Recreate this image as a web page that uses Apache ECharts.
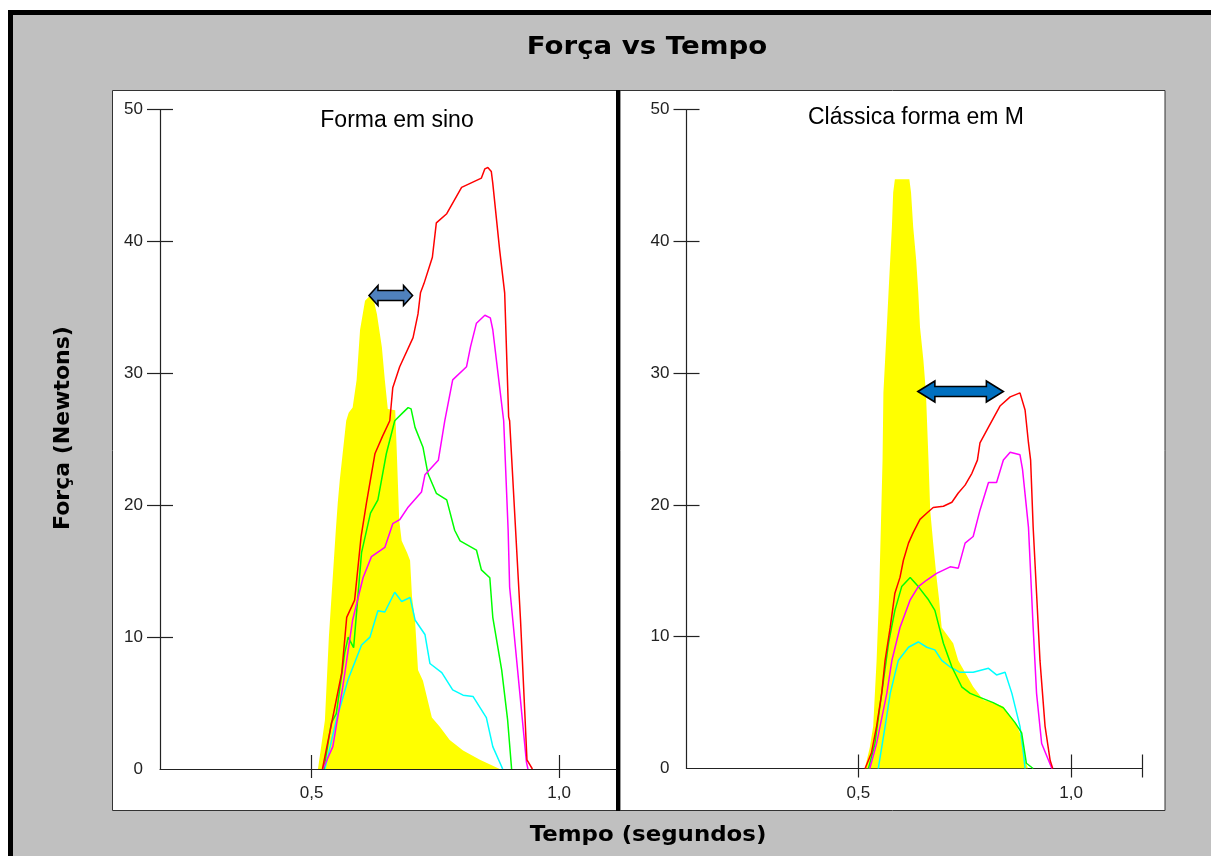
<!DOCTYPE html>
<html>
<head>
<meta charset="utf-8">
<script src="https://cdn.jsdelivr.net/npm/echarts@6/dist/echarts.min.js"></script>
<style>
html,body{margin:0;padding:0;background:#fff;}
#chart{width:1211px;height:856px;}
</style>
</head>
<body>
<div id="chart"></div>
<script>
// ---------- DATA ----------
const mainTitle = 'Força vs Tempo';
const subTitles = ['Forma em sino', 'Clássica forma em M'];
const xName = 'Tempo (segundos)';
const yName = 'Força (Newtons)';
const xTickValues = [0.5, 1.0];
const yTickValues = [10, 20, 30, 40, 50];

// Painel 1: forma em sino  [tempo (s), força (N)]
const sinoAmarelo = [[0.513,0],[0.527,3.7],[0.535,10.0],[0.549,18.1],[0.553,20.2],[0.557,21.9],[0.570,26.4],[0.575,27.0],[0.583,27.4],[0.591,29.5],[0.598,33.3],[0.608,35.5],[0.616,35.8],[0.624,35.8],[0.632,34.5],[0.642,32.0],[0.648,29.5],[0.654,27.3],[0.669,27.2],[0.672,24.2],[0.677,18.9],[0.682,17.3],[0.693,16.4],[0.699,15.8],[0.703,13.0],[0.709,11.3],[0.715,7.5],[0.725,6.7],[0.743,3.9],[0.759,3.2],[0.779,2.2],[0.806,1.4],[0.840,0.7],[0.880,0]];
const sinoVermelho = [[0.522,0],[0.561,7.3],[0.571,11.5],[0.587,12.8],[0.600,17.6],[0.611,20.2],[0.628,23.9],[0.643,25.2],[0.658,26.4],[0.664,28.9],[0.678,30.5],[0.705,32.7],[0.715,34.5],[0.720,36.1],[0.727,36.8],[0.744,38.8],[0.752,41.4],[0.773,42.1],[0.803,44.1],[0.843,44.8],[0.850,45.5],[0.856,45.6],[0.863,45.3],[0.866,44.4],[0.880,39.3],[0.890,36.1],[0.898,26.7],[0.900,26.4],[0.922,11.3],[0.935,0.7],[0.946,0]];
const sinoMagenta = [[0.523,0],[0.543,1.7],[0.563,6.2],[0.583,11.3],[0.604,14.5],[0.621,16.1],[0.648,16.8],[0.664,18.6],[0.678,18.9],[0.694,19.8],[0.722,21.0],[0.729,22.3],[0.756,23.4],[0.769,26.4],[0.785,29.5],[0.813,30.5],[0.821,32.0],[0.833,33.8],[0.850,34.4],[0.861,34.2],[0.866,33.3],[0.880,28.9],[0.888,26.4],[0.897,18.1],[0.900,13.8],[0.934,0.5],[0.937,0]];
const sinoVerde = [[0.525,0],[0.540,3.5],[0.550,4.2],[0.567,8.8],[0.574,10.0],[0.585,9.2],[0.601,16.4],[0.619,19.4],[0.634,20.4],[0.651,23.9],[0.668,26.4],[0.684,27.0],[0.695,27.4],[0.701,27.3],[0.709,25.9],[0.725,24.4],[0.735,22.4],[0.752,20.9],[0.773,20.4],[0.789,18.1],[0.800,17.3],[0.833,16.6],[0.843,15.1],[0.860,14.5],[0.866,11.5],[0.884,7.5],[0.896,3.7],[0.904,0]];
const sinoCiano = [[0.527,0],[0.550,3.7],[0.574,6.8],[0.601,9.4],[0.618,10.0],[0.634,12.0],[0.648,11.9],[0.668,13.4],[0.682,12.7],[0.699,13.0],[0.709,11.3],[0.729,10.2],[0.739,8.0],[0.763,7.3],[0.785,6.0],[0.806,5.6],[0.826,5.5],[0.853,3.9],[0.866,1.7],[0.886,0]];
const setaSino = [[0.616, 0.704, 35.9]];   // início, fim, força

// Painel 2: clássica forma em M
const mAmarelo = [[0.516,0.1],[0.527,1.6],[0.535,3.2],[0.539,5.7],[0.543,8.2],[0.549,13.3],[0.553,18.3],[0.557,23.4],[0.559,28.5],[0.563,31.0],[0.567,33.5],[0.571,36.1],[0.575,38.6],[0.579,41.1],[0.582,43.7],[0.586,44.7],[0.620,44.7],[0.624,43.7],[0.629,41.1],[0.636,38.6],[0.641,36.1],[0.645,33.5],[0.653,31.0],[0.659,28.5],[0.665,23.4],[0.669,19.6],[0.676,17.1],[0.684,14.5],[0.690,12.8],[0.696,10.7],[0.723,9.5],[0.735,8.2],[0.770,6.2],[0.794,5.2],[0.817,5.0],[0.841,4.7],[0.868,3.5],[0.884,2.4],[0.892,0.6],[0.899,0]];
const mVermelho = [[0.516,0],[0.531,1.2],[0.543,3.2],[0.555,5.7],[0.563,8.2],[0.575,10.7],[0.586,13.3],[0.598,14.5],[0.606,15.8],[0.618,17.1],[0.629,17.9],[0.645,18.9],[0.662,19.4],[0.676,19.8],[0.700,19.9],[0.720,20.2],[0.735,20.9],[0.751,21.5],[0.767,22.4],[0.780,23.4],[0.786,24.7],[0.806,25.9],[0.833,27.5],[0.857,28.2],[0.880,28.5],[0.892,27.2],[0.900,24.7],[0.905,23.4],[0.911,18.3],[0.919,13.3],[0.927,8.2],[0.939,3.2],[0.951,0.6],[0.957,0]];
const mMagenta = [[0.527,0],[0.543,1.9],[0.567,5.7],[0.579,8.2],[0.598,10.7],[0.622,12.8],[0.641,13.8],[0.661,14.3],[0.684,14.8],[0.716,15.3],[0.735,15.2],[0.751,17.1],[0.770,17.6],[0.786,19.6],[0.806,21.7],[0.825,21.7],[0.841,23.4],[0.857,24.0],[0.880,23.8],[0.886,22.7],[0.900,18.3],[0.911,10.7],[0.919,5.7],[0.931,1.9],[0.955,0]];
const mVerde = [[0.524,0],[0.539,1.9],[0.555,5.7],[0.571,9.5],[0.586,12.0],[0.602,13.8],[0.622,14.5],[0.641,13.8],[0.665,12.8],[0.680,12.0],[0.700,9.5],[0.720,7.7],[0.743,6.2],[0.763,5.7],[0.786,5.4],[0.817,5.0],[0.841,4.6],[0.868,3.5],[0.884,2.7],[0.895,0.4],[0.911,0]];
const mCiano = [[0.547,0],[0.563,3.2],[0.575,5.7],[0.594,8.2],[0.618,9.2],[0.641,9.6],[0.661,9.2],[0.680,9.0],[0.696,8.2],[0.716,7.7],[0.739,7.3],[0.770,7.3],[0.806,7.6],[0.825,7.1],[0.845,7.3],[0.861,5.7],[0.880,3.2],[0.888,1.2],[0.892,0]];
const setaM = [[0.640, 0.841, 28.6]];

// ---------- CHART ----------
const chart = echarts.init(document.getElementById('chart'), null, {renderer: 'canvas'});
const numFont = "'Liberation Sans Narrow', 'Liberation Sans', Arial, sans-serif";
const axisColor = '#222';

const xRanges = [[0.194, 1.1148], [0.0962, 1.168]];

function xAxesFor(g) {
  const [mn, mx] = xRanges[g];
  const tickVals = g === 1 ? xTickValues.concat([mx]) : xTickValues;
  return [
    {type:'value', gridIndex:g, min:mn, max:mx, position:'bottom',
     axisLine:{show:true, onZero:false, lineStyle:{color:axisColor, width:1.2}},
     axisTick:{show:true, inside:false, length:9, customValues:tickVals, lineStyle:{color:axisColor, width:1.2}},
     axisLabel:{show:true, customValues:xTickValues, margin:16, fontSize:17, color:'#222', fontFamily:numFont,
       formatter:v => v.toFixed(1).replace('.', ',')},
     splitLine:{show:false}},
    {type:'value', gridIndex:g, min:mn, max:mx, position:'bottom',
     axisLine:{show:false},
     axisTick:{show:true, inside:true, length:14, customValues:tickVals, lineStyle:{color:axisColor, width:1.2}},
     axisLabel:{show:false}, splitLine:{show:false}}
  ];
}
function yAxesFor(g) {
  return [
    {type:'value', gridIndex:g, min:0, max:50, interval:10, position:'left',
     axisLine:{show:true, onZero:false, lineStyle:{color:axisColor, width:1.2}},
     axisTick:{show:true, inside:false, length:13, customValues:yTickValues, lineStyle:{color:axisColor, width:1.2}},
     axisLabel:{show:true, margin:17, fontSize:17, color:'#222', fontFamily:numFont},
     splitLine:{show:false}},
    {type:'value', gridIndex:g, min:0, max:50, interval:10, position:'left',
     axisLine:{show:false},
     axisTick:{show:true, inside:true, length:13, customValues:yTickValues, lineStyle:{color:axisColor, width:1.2}},
     axisLabel:{show:false}, splitLine:{show:false}}
  ];
}

function lineSeries(data, color, g) {
  return {type:'line', xAxisIndex:g*2, yAxisIndex:g*2, data:data, showSymbol:false, symbol:'none',
    lineStyle:{color:color, width:1.5}, itemStyle:{color:color}, z:3, animation:false, clip:true};
}
function areaSeries(data, g) {
  return {type:'line', xAxisIndex:g*2, yAxisIndex:g*2, data:data, showSymbol:false, symbol:'none',
    lineStyle:{width:0, color:'#FFFF00'}, areaStyle:{color:'#FFFF00', opacity:1}, z:2, animation:false};
}
function arrowSeries(data, g, color, headLen, halfH, shaftHalf) {
  return {type:'custom', xAxisIndex:g*2, yAxisIndex:g*2, data:data, z:5, clip:false, animation:false,
    encode:{x:[0,1], y:2},
    renderItem:function(params, api) {
      const a = api.coord([api.value(0), api.value(2)]);
      const b = api.coord([api.value(1), api.value(2)]);
      const y = a[1], x1 = a[0], x2 = b[0];
      const pts = [[x1,y],[x1+headLen,y-halfH],[x1+headLen,y-shaftHalf],[x2-headLen,y-shaftHalf],[x2-headLen,y-halfH],
                   [x2,y],[x2-headLen,y+halfH],[x2-headLen,y+shaftHalf],[x1+headLen,y+shaftHalf],[x1+headLen,y+halfH]];
      return {type:'polygon', shape:{points:pts}, style:{fill:color, stroke:'#000', lineWidth:1.6}};
    }};
}

const option = {
  backgroundColor:'#C0C0C0',
  animation:false,
  grid:[
    {left:160, top:109.5, width:456, height:659.5},
    {left:686.5, top:109.5, width:456, height:659},
  ],
  xAxis:[...xAxesFor(0), ...xAxesFor(1)],
  yAxis:[...yAxesFor(0), ...yAxesFor(1)],
  graphic:[
    // outer white margin and black frame
    {type:'rect', shape:{x:0, y:0, width:1211, height:10}, style:{fill:'#fff'}, z:-10, silent:true},
    {type:'rect', shape:{x:0, y:0, width:8, height:856}, style:{fill:'#fff'}, z:-10, silent:true},
    {type:'rect', shape:{x:8, y:10, width:1203, height:5}, style:{fill:'#000'}, z:-9, silent:true},
    {type:'rect', shape:{x:8, y:10, width:5, height:846}, style:{fill:'#000'}, z:-9, silent:true},
    // panels
    {type:'rect', shape:{x:112.5, y:90.5, width:504, height:720}, style:{fill:'#fff', stroke:'#333', lineWidth:1}, z:-8, silent:true},
    {type:'rect', shape:{x:620, y:90.5, width:545, height:720}, style:{fill:'#fff', stroke:'#333', lineWidth:1}, z:-8, silent:true},
    {type:'rect', shape:{x:616, y:90, width:4, height:721}, style:{fill:'#000'}, z:-7, silent:true},
    // texts
    {type:'text', x:647, y:48, scaleX:1.15, style:{text:mainTitle, font:"bold 24px 'DejaVu Sans'", fill:'#000', textAlign:'center', textVerticalAlign:'middle'}, z:10},
    {type:'text', x:397, y:121, style:{text:subTitles[0], font:"23px 'Liberation Sans'", fill:'#000', textAlign:'center', textVerticalAlign:'middle'}, z:10},
    {type:'text', x:916, y:118, style:{text:subTitles[1], font:"23px 'Liberation Sans'", fill:'#000', textAlign:'center', textVerticalAlign:'middle'}, z:10},
    {type:'text', x:648, y:835, scaleX:1.04, style:{text:xName, font:"bold 22px 'DejaVu Sans'", fill:'#000', textAlign:'center', textVerticalAlign:'middle'}, z:10},
    {type:'text', x:63, y:428, rotation:Math.PI/2, style:{text:yName, font:"bold 22px 'DejaVu Sans'", fill:'#000', textAlign:'center', textVerticalAlign:'middle'}, z:10},
  ],
  series:[
    areaSeries(sinoAmarelo, 0),
    lineSeries(sinoCiano, '#00FFFF', 0),
    lineSeries(sinoVerde, '#00FF00', 0),
    lineSeries(sinoMagenta, '#FF00FF', 0),
    lineSeries(sinoVermelho, '#FF0000', 0),
    arrowSeries(setaSino, 0, '#4F81BD', 9, 10, 5),
    areaSeries(mAmarelo, 1),
    lineSeries(mCiano, '#00FFFF', 1),
    lineSeries(mVerde, '#00FF00', 1),
    lineSeries(mMagenta, '#FF00FF', 1),
    lineSeries(mVermelho, '#FF0000', 1),
    arrowSeries(setaM, 1, '#0070C0', 17, 10.5, 5),
  ]
};
chart.setOption(option);
</script>
</body>
</html>
